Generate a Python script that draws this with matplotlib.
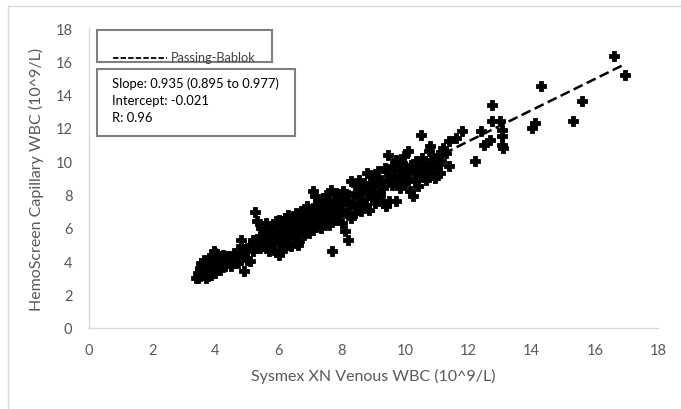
import matplotlib.pyplot as plt
from matplotlib.lines import Line2D
from matplotlib.patches import Rectangle

# ==========================================
# Data
# ==========================================
venous = [
    # x 3.4 - 4.3
    3.40, 3.45, 3.50, 3.50, 3.55, 3.60, 3.60, 3.65, 3.70, 3.70, 3.70, 3.75, 3.80, 3.80,
    3.85, 3.85, 3.90, 3.90, 3.95, 4.00, 4.00, 4.00, 4.05, 4.10, 4.10, 4.15, 4.20, 4.20,
    4.25, 4.30, 4.30, 3.55, 3.65, 3.75, 3.95, 4.05, 3.85, 3.60, 3.50, 3.45, 3.80, 4.15,
    # x 4.3 - 5.2
    4.40, 4.50, 4.50, 4.60, 4.65, 4.70, 4.80, 4.80, 4.90, 4.90, 5.00, 5.00, 5.10, 5.10,
    5.20, 5.20, 4.35, 4.75,
    # x 5.2 - 6.2
    5.25, 5.30, 5.35, 5.40, 5.40, 5.45, 5.50, 5.55, 5.60, 5.60, 5.65, 5.70, 5.75, 5.80,
    5.80, 5.85, 5.90, 5.90, 5.95, 6.00, 6.00, 6.05, 6.10, 6.10, 6.15, 6.20, 6.20, 5.50,
    5.70, 6.00,
    # x 6.2 - 7.2
    6.25, 6.30, 6.30, 6.35, 6.40, 6.45, 6.50, 6.50, 6.55, 6.60, 6.60, 6.65, 6.70, 6.70,
    6.75, 6.80, 6.80, 6.85, 6.90, 6.90, 6.95, 7.00, 7.00, 7.05, 7.10, 7.10, 7.15, 6.25,
    6.40, 6.60,
    # x 7.2 - 8.3
    7.20, 7.20, 7.25, 7.10, 7.15, 7.30, 7.30, 7.35, 7.40, 7.40, 7.45, 7.50, 7.50, 7.55,
    7.60, 7.60, 7.65, 7.70, 7.70, 7.75, 7.80, 7.80, 7.85, 7.90, 7.90, 7.95, 8.00, 8.00,
    8.05, 8.10, 8.10, 8.15, 8.20, 8.20, 8.25, 8.30, 7.25, 7.55, 7.35, 7.65, 8.00,
    # x 8.3 - 9.5
    8.35, 8.40, 8.40, 8.45, 8.50, 8.50, 8.55, 8.60, 8.60, 8.65, 8.70, 8.75, 8.80, 8.80,
    8.85, 8.90, 8.95, 9.00, 9.00, 9.05, 9.10, 9.15, 9.20, 9.20, 9.25, 9.30, 9.35, 9.40,
    9.45, 9.50, 9.50, 8.30, 8.90, 9.45, 9.30,
    # x 9.5 - 11.2
    9.60, 9.60, 9.65, 9.70, 9.75, 9.80, 9.85, 9.90, 9.90, 9.95, 10.00, 10.00, 10.05,
    10.10, 10.10, 10.15, 10.20, 10.25, 10.30, 10.30, 10.35, 10.40, 10.40, 10.50, 10.50,
    10.55, 10.60, 10.65, 10.70, 10.75, 10.80, 10.80, 10.85, 10.90, 10.95, 11.00, 11.05,
    11.10, 11.15, 11.20, 9.70,
    # x > 11.2
    11.40, 11.60, 11.80, 12.20, 12.40, 12.50, 12.75, 12.70, 12.75, 13.00, 13.05, 13.05,
    13.05, 13.10, 14.00, 14.10, 14.30, 15.30, 15.60, 16.60, 16.95, 11.30, 11.40,
]

capillary = [
    3.00, 3.30, 3.10, 3.60, 3.40, 3.20, 3.80, 3.50, 3.00, 3.30, 4.00, 3.70, 3.40, 3.90,
    3.20, 4.20, 3.60, 4.40, 3.80, 3.30, 4.00, 4.50, 3.60, 3.90, 4.30, 3.50, 4.10, 3.80,
    4.40, 3.70, 4.00, 3.90, 4.10, 3.10, 4.60, 4.20, 3.60, 3.50, 3.40, 3.00, 4.10, 4.00,
    3.90, 4.10, 3.70, 4.50, 4.20, 3.90, 4.90, 5.30, 3.40, 4.40, 4.70, 4.10, 4.00, 5.00,
    4.60, 5.30, 4.30, 4.50,
    6.95, 6.40, 5.00, 5.50, 4.80, 6.00, 5.20, 4.90, 5.70, 6.30, 5.00, 5.40, 6.10, 5.20,
    5.80, 4.70, 5.50, 6.40, 5.90, 5.10, 6.50, 5.60, 6.20, 4.60, 5.80, 6.60, 5.30, 5.60,
    4.60, 4.40,
    6.10, 6.80, 5.50, 6.40, 5.90, 6.60, 5.40, 6.20, 6.90, 5.80, 6.50, 5.20, 6.10, 7.00,
    6.70, 5.60, 6.30, 6.90, 6.00, 7.30, 5.70, 6.40, 6.90, 6.20, 5.90, 7.20, 6.60, 5.00,
    4.90, 5.00,
    6.30, 7.00, 7.60, 8.20, 7.90, 6.60, 7.30, 6.00, 6.90, 7.80, 6.40, 7.10, 8.00, 6.70,
    7.40, 6.20, 8.30, 4.60, 7.00, 7.70, 6.50, 8.10, 7.30, 6.80, 7.90, 7.50, 6.30, 7.10,
    8.20, 5.80, 7.60, 6.90, 5.30, 8.00, 7.40, 6.60, 6.80, 7.60, 7.20, 6.60, 7.80,
    7.50, 8.10, 6.90, 8.60, 7.30, 7.90, 8.90, 7.00, 8.30, 7.70, 8.70, 7.40, 9.30, 8.10,
    7.10, 8.50, 7.80, 9.00, 8.20, 7.50, 8.70, 9.40, 8.00, 7.60, 8.90, 8.40, 9.60, 7.30,
    8.80, 7.60, 9.20, 8.80, 9.20, 10.40, 7.50,
    8.60, 9.70, 9.10, 10.10, 8.90, 9.50, 8.40, 9.90, 9.20, 10.30, 8.70, 9.60, 9.00,
    10.60, 9.40, 8.20, 9.80, 7.90, 8.80, 9.30, 10.00, 8.50, 9.70, 11.60, 9.10,
    10.20, 9.50, 8.90, 9.90, 10.60, 10.90, 9.30, 9.70, 10.20, 9.00, 9.60, 10.40,
    9.30, 10.00, 10.80, 7.60,
    11.20, 11.40, 11.80, 10.00, 11.80, 11.00, 13.40, 11.30, 12.40, 12.40, 11.90, 11.50,
    11.00, 10.80, 12.00, 12.30, 14.50, 12.40, 13.60, 16.30, 15.20, 10.50, 9.70,
]

pb_slope = 0.935
pb_intercept = -0.021
stats_lines = ["Slope: 0.935 (0.895 to 0.977)", "Intercept: -0.021", "R: 0.96"]

x_ticks = list(range(0, 20, 2))
y_ticks = list(range(0, 20, 2))

# ==========================================
# Figure
# ==========================================
plt.rcParams['font.family'] = ['Lato', 'DejaVu Sans']
gray = '#595959'

fig = plt.figure(figsize=(6.81, 4.10), dpi=100)
ax = fig.add_axes([89 / 681, 1 - 329 / 410, 569 / 681, 300 / 410])

# outer chart border (light gray)
fig.add_artist(Line2D([8 / 681, 1.0], [1 - 7 / 410, 1 - 7 / 410],
                      transform=fig.transFigure, color='#d9d9d9', lw=1))
fig.add_artist(Line2D([8 / 681, 8 / 681], [0.0, 1 - 7 / 410],
                      transform=fig.transFigure, color='#d9d9d9', lw=1))

# Passing-Bablok regression line
x0, x1 = min(venous), max(venous)
ax.plot([x0, x1], [pb_slope * x0 + pb_intercept, pb_slope * x1 + pb_intercept],
        color='black', lw=1.8, linestyle=(0, (4, 1.8)), zorder=2)

ax.plot(venous, capillary, linestyle='none', marker='P', ms=6.9,
        color='black', mec='black', mew=0.6, zorder=3)

ax.set_xlim(0, 18)
ax.set_ylim(0, 18)
ax.set_xticks(x_ticks)
ax.set_yticks(y_ticks)
ax.tick_params(length=0, labelsize=10.5, labelcolor=gray)
ax.tick_params(axis='x', pad=11)
ax.tick_params(axis='y', pad=12)

for side in ['top', 'right']:
    ax.spines[side].set_visible(False)
for side in ['left', 'bottom']:
    ax.spines[side].set_color('#d9d9d9')
    ax.spines[side].set_linewidth(1)

ax.set_xlabel('Sysmex XN Venous WBC (10^9/L)', fontsize=11.5, color=gray, labelpad=8)
ax.set_ylabel('HemoScreen Capillary WBC (10^9/L)', fontsize=11.5, color=gray, labelpad=8)

# legend box
def px_box(l, t, r, b):
    return Rectangle((l / 681, 1 - b / 410), (r - l) / 681, (b - t) / 410,
                     transform=fig.transFigure, fill=True, facecolor='white',
                     edgecolor='#7f7f7f', lw=1.5, zorder=5)

fig.add_artist(px_box(97, 31, 272, 63))
fig.add_artist(Line2D([113 / 681, 167 / 681], [1 - 59 / 410, 1 - 59 / 410],
                      transform=fig.transFigure, color='black', lw=1.3,
                      linestyle=(0, (3, 1.2)), zorder=6))
fig.text(171 / 681, 1 - 58 / 410, 'Passing-Bablok', fontsize=9.2, color='#404040',
         va='center', ha='left', zorder=6)

# stats box
fig.add_artist(px_box(97, 70, 295, 137))
for i, s in enumerate(stats_lines):
    fig.text(112 / 681, 1 - (84 + i * 17) / 410, s, fontsize=9.4, color='black',
             va='center', ha='left', zorder=6)

plt.savefig('out.png', dpi=100)
